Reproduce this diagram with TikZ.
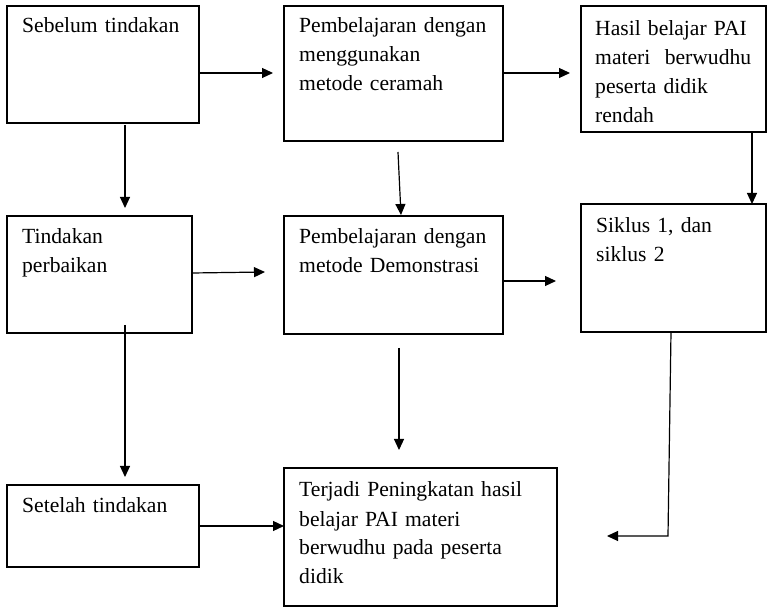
\documentclass[tikz,border=0pt]{standalone}
\usepackage{fontspec}
\setmainfont{Liberation Serif}
\usetikzlibrary{arrows.meta}
\begin{document}
\begin{tikzpicture}[x=1pt,y=1pt,
  box/.style={draw=black,line width=1.3pt,anchor=north west,inner sep=0pt,outer sep=0pt},
  txt/.style={anchor=base west,inner sep=0pt,text width=270pt,align=left,
    font=\fontsize{21.6}{29}\selectfont,text=black},
  arr/.style={line width=1.2pt,-{Triangle[length=11pt,width=10pt]}}]
\useasboundingbox (0,0) rectangle (769,-609);
% boxes
\node[box,minimum width=192pt,minimum height=117pt] (b1) at (7,-6) {};
\node[box,minimum width=219pt,minimum height=135pt] (b2) at (284,-6) {};
\node[box,minimum width=185pt,minimum height=126pt] (b3) at (581,-6) {};
\node[box,minimum width=185pt,minimum height=117pt] (b4) at (7,-216) {};
\node[box,minimum width=219pt,minimum height=118pt] (b5) at (284,-216) {};
\node[box,minimum width=185pt,minimum height=128pt] (b6) at (581,-204) {};
\node[box,minimum width=192pt,minimum height=82pt] (b7) at (7,-485) {};
\node[box,minimum width=273pt,minimum height=138pt] (b8) at (284,-468) {};
% texts
\path (b1.north west) ++(15,-27) node[txt] (t1) {Sebelum tindakan};
\path (b2.north west) ++(15,-27) node[txt] (t2) {Pembelajaran dengan\\menggunakan\\metode ceramah};
\path (b3.north west) ++(14,-30) node[txt] (t3) {Hasil belajar PAI\\materi\ \ berwudhu\\peserta didik\\rendah};
\path (b4.north west) ++(15,-28) node[txt] (t4) {Tindakan\\perbaikan};
\path (b5.north west) ++(15,-28) node[txt] (t5) {Pembelajaran dengan\\metode Demonstrasi};
\path (b6.north west) ++(15,-29) node[txt] (t6) {Siklus 1, dan\\siklus 2};
\path (b7.north west) ++(15,-28) node[txt] (t7) {Setelah tindakan};
\path (b8.north west) ++(15,-29) node[txt] (t8) {Terjadi Peningkatan hasil\\belajar PAI materi\\berwudhu pada peserta\\didik};
% connector ends
\coordinate (c1a) at (199,-73);  \coordinate (c1b) at (273,-73);
\coordinate (c2a) at (503,-73);  \coordinate (c2b) at (570,-73);
\coordinate (c3a) at (125,-125); \coordinate (c3b) at (125,-208);
\coordinate (c4a) at (398,-152); \coordinate (c4b) at (401,-215);
\coordinate (c5a) at (752,-132); \coordinate (c5b) at (752,-204);
\coordinate (c6a) at (192,-273); \coordinate (c6b) at (265,-272);
\coordinate (c7a) at (503,-281); \coordinate (c7b) at (556,-281);
\coordinate (c8a) at (125,-325); \coordinate (c8b) at (125,-477);
\coordinate (c9a) at (399,-348); \coordinate (c9b) at (399,-450);
\coordinate (c10a) at (671,-332); \coordinate (c10m) at (668,-536); \coordinate (c10b) at (607,-536);
\coordinate (c11a) at (199,-526); \coordinate (c11b) at (284,-526);
% connectors
\draw[arr] (c1a) -- (c1b);
\draw[arr] (c2a) -- (c2b);
\draw[arr] (c3a) -- (c3b);
\draw[arr] (c4a) -- (c4b);
\draw[arr] (c5a) -- (c5b);
\draw[arr] (c6a) -- (c6b);
\draw[arr] (c7a) -- (c7b);
\draw[arr] (c8a) -- (c8b);
\draw[arr] (c9a) -- (c9b);
\draw[arr] (c10a) -- (c10m) -- (c10b);
\draw[arr] (c11a) -- (c11b);
\end{tikzpicture}
\end{document}
